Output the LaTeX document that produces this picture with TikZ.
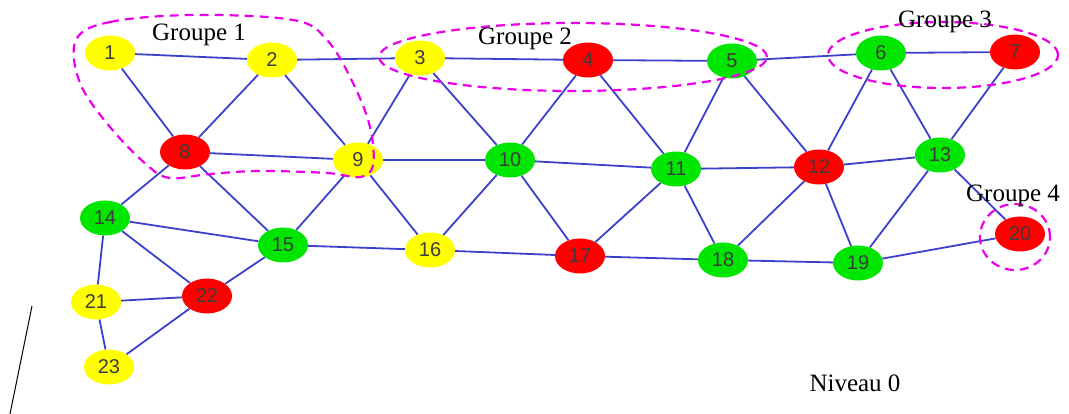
\documentclass[tikz,border=0pt]{standalone}
\usepackage{fontspec}
\setmainfont{Liberation Serif}
\newfontfamily\numfont{Liberation Sans}
\usetikzlibrary{shapes.geometric}
\definecolor{edgeblue}{RGB}{60,65,205}
\definecolor{ngreen}{RGB}{0,230,0}
\definecolor{nyellow}{RGB}{255,255,0}
\definecolor{nred}{RGB}{255,0,0}
\definecolor{grpmag}{RGB}{235,0,235}
\definecolor{numgray}{RGB}{60,60,60}
\tikzset{
  vert/.style={ellipse, minimum width=50pt, minimum height=35pt, inner sep=0pt,
    font=\numfont\fontsize{20}{20}\selectfont, text=numgray},
  yv/.style={vert, fill=nyellow},
  rv/.style={vert, fill=nred},
  gv/.style={vert, fill=ngreen},
  link/.style={draw=edgeblue, line width=1.8pt},
  grp/.style={draw=grpmag, line width=2.2pt, dash pattern=on 9pt off 6pt},
  glabel/.style={font=\fontsize{25}{25}\selectfont, inner sep=0pt}
}
\begin{document}
\begin{tikzpicture}[x=1pt,y=-1pt]
\useasboundingbox (0,0) rectangle (1069,414);
% nodes
\node[yv] (n1) at (110,53) {1};
\node[yv] (n2) at (272,60) {2};
\node[yv] (n3) at (420,58) {3};
\node[rv] (n4) at (588,60) {4};
\node[gv] (n5) at (732,61) {5};
\node[gv] (n6) at (881,53) {6};
\node[rv] (n7) at (1015,52) {7};
\node[rv] (n8) at (185,152) {8};
\node[yv] (n9) at (358,160) {9};
\node[gv] (n10) at (510,160) {10};
\node[gv] (n11) at (676,169) {11};
\node[rv] (n12) at (819,167) {12};
\node[gv] (n13) at (940,155) {13};
\node[gv] (n14) at (105,218) {14};
\node[gv] (n15) at (283,245) {15};
\node[yv] (n16) at (430,250) {16};
\node[rv] (n17) at (580,256) {17};
\node[gv] (n18) at (723,260) {18};
\node[gv] (n19) at (858,263) {19};
\node[rv] (n20) at (1020,234) {20};
\node[yv] (n21) at (96,302) {21};
\node[rv] (n22) at (207,296) {22};
\node[yv] (n23) at (109,367) {23};
% edges
\foreach \a/\b in {1/2,2/3,3/4,4/5,5/6,6/7,
  1/8,2/8,2/9,3/9,3/10,4/10,4/11,5/11,5/12,6/12,6/13,7/13,
  8/9,9/10,10/11,11/12,12/13,
  8/14,8/15,9/15,9/16,10/16,10/17,11/17,11/18,12/18,12/19,13/19,13/20,
  14/15,15/16,16/17,17/18,18/19,19/20,
  14/21,14/22,15/22,21/22,21/23,22/23}
  \draw[link] (n\a) -- (n\b);
% groups
\draw[grp] plot[smooth cycle, tension=0.6] coordinates {(76,40) (110,22) (193,15) (293,20) (327,40) (353,83) (370,127) (373,165) (360,177) (327,173) (260,171) (210,174) (170,178) (147,165) (110,127) (80,83)};
\node[grp, ellipse, minimum width=388pt, minimum height=68pt, inner sep=0pt] (g2) at (573,57) {};
\node[grp, ellipse, minimum width=230pt, minimum height=66pt, inner sep=0pt] (g3) at (943,55) {};
\node[grp, ellipse, minimum width=70pt, minimum height=66pt, inner sep=0pt] (g4) at (1015,237) {};
\node[glabel] (l1) at (199,35) {Groupe 1};
\node[glabel] (l2) at (525,39) {Groupe 2};
\node[glabel] (l3) at (945,22) {Groupe 3};
\node[glabel] (l4) at (1013,196) {Groupe 4};
\node[glabel] (niv) at (855,383) {Niveau 0};
% stray line
\coordinate (s1) at (32,306);
\coordinate (s2) at (10,414);
\draw[black, line width=1pt] (s1) -- (s2);
\end{tikzpicture}
\end{document}
